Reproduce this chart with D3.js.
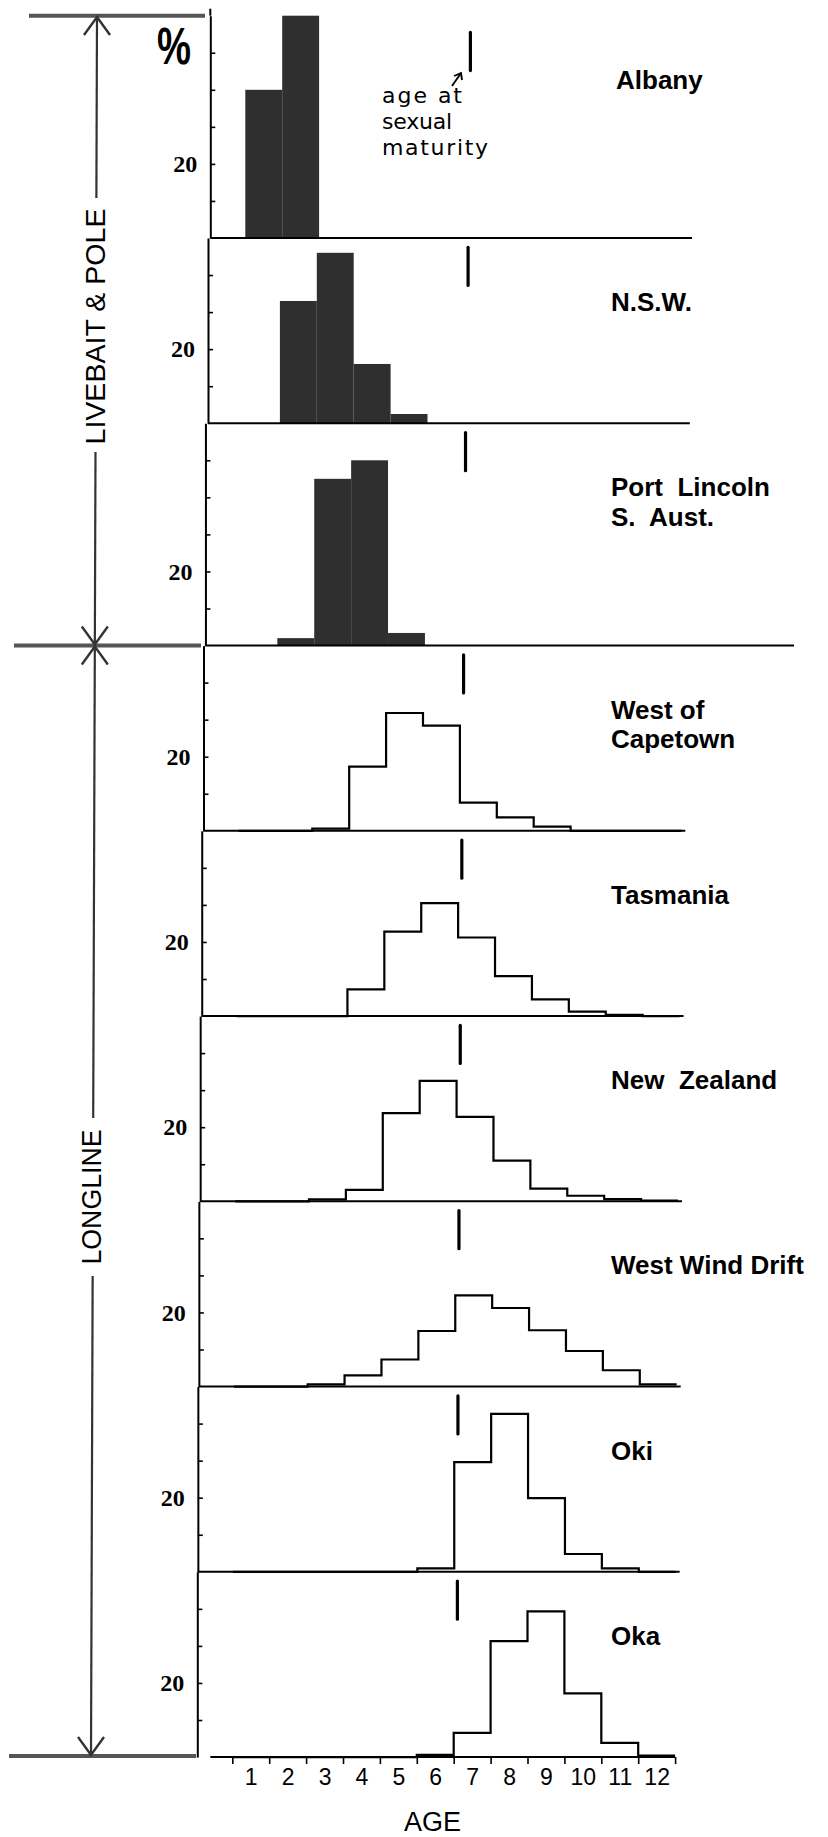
<!DOCTYPE html>
<html><head><meta charset="utf-8">
<script src="https://cdn.jsdelivr.net/npm/d3@7"></script>
<style>
html,body{margin:0;padding:0;background:#fff;}
svg{display:block;}
</style></head><body>
<svg id="chart" width="828" height="1837"></svg>
<script>
// ---------------- data ----------------
const ages = [1,2,3,4,5,6,7,8,9,10,11,12];
const regionLabels = [["Albany"],["N.S.W."],["Port  Lincoln","S.  Aust."],["West of","Capetown"],["Tasmania"],["New  Zealand"],["West Wind Drift"],["Oki"],["Oka"]];
const gearOfRegion = ["pole","pole","pole","longline","longline","longline","longline","longline","longline"];
const gearNames = ["LIVEBAIT & POLE","LONGLINE"];
// percent of catch by age (ages 1..12)
const albany        = [40, 60, 0,   0,    0,    0,    0,    0,    0,    0,   0,   0];
const nsw           = [0,  33, 46,  16,   2.5,  0,    0,    0,    0,    0,   0,   0];
const portLincoln   = [0,  2,  45,  50,   3.4,  0,    0,    0,    0,    0,   0,   0];
const capetown      = [0,  0,  0.6, 17.3, 31.8, 28.4, 7.6,  3.6,  1.1,  0,   0,   0];
const tasmania      = [0,  0,  0,   7.2,  22.8, 30.5, 21.2, 10.8, 4.5,  1.2, 0.3, 0];
const newZealand    = [0,  0,  0.5, 3.1,  23.8, 32.5, 22.8, 11,   3.4,  1.5, 0.6, 0.2];
const westWindDrift = [0,  0,  0.6, 3,    7.3,  15,   24.6, 21.2, 15.2, 9.6, 4.4, 0.6];
const oki           = [0,  0,  0,   0,    0,    0.9,  29.6, 42.6, 19.9, 4.8, 0.9, 0];
const oka           = [0,  0,  0,   0,    0,    0.6,  6.5,  31.3, 39.3, 17.2, 3.8, 0.4];
const series = [albany, nsw, portLincoln, capetown, tasmania, newZealand, westWindDrift, oki, oka];
const maturityAge = 6.6;
const labelledTick = 20;
const maturityText = ["age at","sexual","maturity"];
const axisTitle = "AGE";

// ---------------- layout ----------------
const svg = d3.select("#chart");
const PX = 3.705;          // px per percent
const TOP_Y = 15.7;
const BOTTOM_Y = 1757;
const xBase = d3.scaleLinear().domain([0.5, 12.5]).range([232.3, 675.1]);
const axisX0 = xBase(0.5) - 35;
const skew = b => 13 * Math.pow((BOTTOM_Y - b) / (BOTTOM_Y - 238), 1.5);

let cursor = TOP_Y;
const panels = series.map((vals, i) => {
  const top = d3.max(vals) >= 50 ? 60 : 50;
  const y0 = cursor;
  const base = cursor + top * PX;
  cursor = base;
  return {i, vals, top, y0, base, gear: gearOfRegion[i]};
});

const chart = svg.append("g");
panels.forEach((p, idx) => {
  const off = skew(p.base);
  const g = chart.append("g").attr("transform", `translate(${off},0)`);
  const y = d3.scaleLinear().domain([0, p.top]).range([p.base, p.y0]);
  const x = xBase;
  const isLast = idx === panels.length - 1;
  const nextGearDiffers = idx < panels.length - 1 && panels[idx+1].gear !== p.gear;

  // bars / step outline
  if (p.gear === "pole") {
    g.selectAll("rect.bar").data(ages.map((a, k) => ({a, v: p.vals[k]})).filter(d => d.v > 0))
      .enter().append("rect").attr("class", "bar")
      .attr("x", d => x(d.a - 0.5)).attr("width", d => x(d.a + 0.5) - x(d.a - 0.5))
      .attr("y", d => y(d.v)).attr("height", d => y(0) - y(d.v))
      .attr("fill", "#2f2f2f");
  } else {
    const pts = ages.flatMap((a, k) => [[a - 0.5, p.vals[k]], [a + 0.5, p.vals[k]]]);
    const line = d3.line().x(d => x(d[0])).y(d => y(d[1]));
    g.append("path").attr("d", line(pts)).attr("fill", "none")
      .attr("stroke", "#000").attr("stroke-width", 2.2).attr("stroke-linejoin", "miter");
  }

  // baseline
  const bx0 = isLast ? x(0.5) - 22 : axisX0;
  const bx1 = nextGearDiffers ? 794 - off : (isLast ? x(12.5) : x(12.5) + 4);
  g.append("line").attr("x1", bx0).attr("x2", bx1).attr("y1", y(0)).attr("y2", y(0))
    .attr("stroke", "#000").attr("stroke-width", 2);

  // y axis
  const yAxis = d3.axisLeft(y).tickValues(d3.range(10, p.top, 10)).tickSize(-5)
    .tickSizeOuter(0).tickPadding(13).tickFormat(d => d === labelledTick ? String(d) : "");
  const ag = g.append("g").attr("transform", `translate(${axisX0},0)`).call(yAxis);
  ag.select(".domain").attr("stroke-width", 2);
  ag.selectAll(".tick line").attr("stroke-width", 1.6);
  ag.selectAll(".tick text").attr("font-family", "'Liberation Serif', serif")
    .attr("font-weight", "bold").attr("font-size", 24).attr("fill", "#000");
  if (idx === 0) {
    g.append("line").attr("x1", axisX0).attr("x2", axisX0).attr("y1", y(p.top) - 7).attr("y2", y(p.top))
      .attr("stroke", "#000").attr("stroke-width", 2);
  }

  // maturity marker
  const mHi = p.top - (idx === 0 ? 4.5 : 2.5);
  g.append("line").attr("x1", x(maturityAge)).attr("x2", x(maturityAge))
    .attr("y1", y(mHi)).attr("y2", y(mHi - 10.3))
    .attr("stroke", "#000").attr("stroke-width", 3.2).attr("stroke-linecap", "round");

  // bottom age axis
  if (isLast) {
    const tAx = d3.axisBottom(x).tickValues(d3.range(0.5, 13, 1)).tickSize(7).tickFormat("");
    const tg = g.append("g").attr("transform", `translate(0,${y(0)})`).call(tAx);
    tg.select(".domain").remove();
    tg.selectAll(".tick line").attr("stroke-width", 1.6);
    const lAx = d3.axisBottom(x).tickValues(ages).tickSize(0).tickPadding(12);
    const lg = g.append("g").attr("transform", `translate(0,${y(0)})`).call(lAx);
    lg.select(".domain").remove();
    lg.selectAll(".tick text").attr("font-family", "'Liberation Sans', Arial, sans-serif")
      .attr("font-size", 23).attr("fill", "#000");
    g.append("text").attr("x", 432.5).attr("y", 1831).attr("text-anchor", "middle")
      .attr("font-family", "'Liberation Sans', Arial, sans-serif").attr("font-size", 27)
      .text(axisTitle);
  }

  // region label
  const lt = svg.append("text").attr("font-family", "'Liberation Sans', Arial, sans-serif")
    .attr("font-weight", "bold").attr("font-size", 26).attr("fill", "#000")
    .style("white-space", "pre");
  regionLabels[idx].forEach((s, k) => {
    lt.append("tspan").attr("x", idx === 0 ? 616 : 611).attr("y", p.y0 + 73 + k * 29.5).text(s);
  });
});

// "%" sign
svg.append("text").attr("x", 157).attr("y", 64).attr("font-family", "'Liberation Sans', Arial, sans-serif")
  .attr("font-weight", "bold").attr("font-size", 52).attr("textLength", 34)
  .attr("lengthAdjust", "spacingAndGlyphs").text("%");

// age at sexual maturity annotation
const mLens = [80, 70, 106];
maturityText.forEach((s, k) => {
  svg.append("text").attr("x", 382).attr("y", 103 + k * 26)
    .attr("font-family", "'DejaVu Sans', sans-serif").attr("font-size", 22)
    .attr("textLength", mLens[k]).attr("lengthAdjust", "spacing").text(s);
});
const arrow = svg.append("g").attr("stroke", "#000").attr("stroke-width", 1.9).attr("fill", "none");
arrow.append("line").attr("x1", 452).attr("y1", 86).attr("x2", 461).attr("y2", 73);
arrow.append("path").attr("d", "M454,76 L461,73 L462,80");

// left gear annotation
const ann = svg.append("g").attr("stroke", "#333").attr("fill", "none");
const lx = yy => 97 - 6 * (yy - 17) / (1756 - 17);
const divY = panels.find((p, i) => i < panels.length - 1 && panels[i+1].gear !== p.gear).base;
ann.append("line").attr("x1", 29).attr("x2", 205).attr("y1", TOP_Y).attr("y2", TOP_Y)
  .attr("stroke", "#555").attr("stroke-width", 4);
ann.append("line").attr("x1", 14).attr("x2", 201).attr("y1", divY).attr("y2", divY)
  .attr("stroke", "#555").attr("stroke-width", 4);
ann.append("line").attr("x1", 9).attr("x2", 196).attr("y1", 1756).attr("y2", 1756)
  .attr("stroke", "#555").attr("stroke-width", 4);
[[17, 198], [452, divY - 1], [divY + 1, 1118], [1276, 1755]].forEach(([a, b]) => {
  ann.append("line").attr("x1", lx(a)).attr("y1", a).attr("x2", lx(b)).attr("y2", b).attr("stroke-width", 2.2);
});
const head = (tx, ty, dir) => `M${tx-13},${ty+dir*18} L${tx},${ty} L${tx+13},${ty+dir*18}`;
ann.append("path").attr("d", head(lx(17), 17, 1)).attr("stroke-width", 2.4);
ann.append("path").attr("d", head(lx(divY), divY - 1, -1)).attr("stroke-width", 2.4);
ann.append("path").attr("d", head(lx(divY), divY + 1, 1)).attr("stroke-width", 2.4);
ann.append("path").attr("d", head(lx(1755), 1755, -1)).attr("stroke-width", 2.4);

svg.append("text").attr("transform", `translate(105,326.5) rotate(-90)`).attr("text-anchor", "middle")
  .attr("font-family", "'Liberation Sans', Arial, sans-serif").attr("font-size", 28)
  .attr("textLength", 236).attr("lengthAdjust", "spacingAndGlyphs").text(gearNames[0]);
svg.append("text").attr("transform", `translate(101,1197) rotate(-90)`).attr("text-anchor", "middle")
  .attr("font-family", "'Liberation Sans', Arial, sans-serif").attr("font-size", 28)
  .attr("textLength", 135).attr("lengthAdjust", "spacingAndGlyphs").text(gearNames[1]);
</script>
</body></html>
